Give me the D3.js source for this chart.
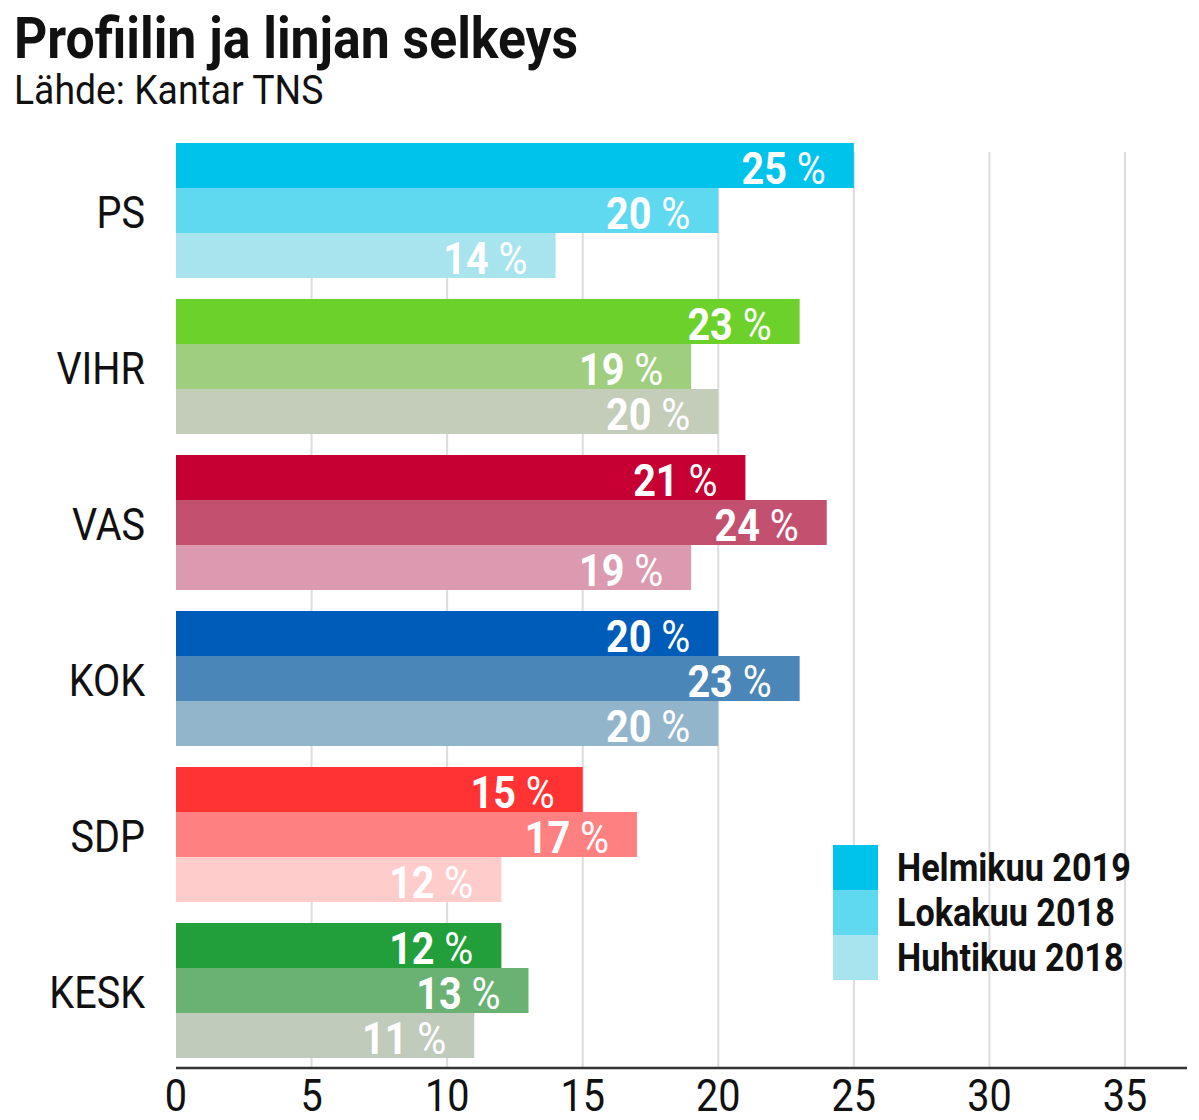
<!DOCTYPE html>
<html><head><meta charset="utf-8">
<script src="https://cdn.jsdelivr.net/npm/d3@7/dist/d3.min.js"></script>
<style>
html,body{margin:0;padding:0;background:#fff;}
svg{display:block;font-family:Roboto,"Noto Sans",sans-serif;}
</style></head>
<body>
<svg id="c" width="1199" height="1120"></svg>
<script>
const title = "Profiilin ja linjan selkeys";
const subtitle = "Lähde: Kantar TNS";
const categories = ["PS","VIHR","VAS","KOK","SDP","KESK"];
const seriesNames = ["Helmikuu 2019","Lokakuu 2018","Huhtikuu 2018"];
const helmikuu2019 = [25,23,21,20,15,12];
const lokakuu2018 = [20,19,24,23,17,13];
const huhtikuu2018 = [14,20,19,20,12,11];
const xTicks = [0,5,10,15,20,25,30,35];
const partyColors = {
  PS:   ["#00c3ec","#5fd9ef","#a8e4ee"],
  VIHR: ["#6dd12b","#9fcf7e","#c3cdba"],
  VAS:  ["#c60033","#c45070","#db9ab0"],
  KOK:  ["#005cb9","#4a86b8","#93b5cc"],
  SDP:  ["#ff3333","#ff8080","#ffcccc"],
  KESK: ["#229f3a","#6ab273","#c0cbbc"]
};

const series = [helmikuu2019, lokakuu2018, huhtikuu2018];
const CX = 0.9; // condensed factor
const svg = d3.select("#c");

const x = d3.scaleLinear().domain([0,35]).range([176,1125]);
const y = d3.scaleBand().domain(categories).range([143,1058]).paddingInner(21/156).paddingOuter(0);
const yi = d3.scaleBand().domain(d3.range(3)).range([0,y.bandwidth()]);

function ctext(g, xx, yy, anchor){
  return g.append("text").attr("transform",`translate(${xx},${yy}) scale(${CX},1)`).attr("text-anchor",anchor);
}

// title
ctext(svg,14,58,"start").attr("font-size",57.5).attr("font-weight",700).attr("fill","#111").text(title);
ctext(svg,14,104,"start").attr("font-size",41.5).attr("fill","#111").text(subtitle);

// gridlines
svg.append("g").selectAll("line").data(xTicks.filter(d=>d>0)).join("line")
  .attr("x1",d=>x(d)).attr("x2",d=>x(d)).attr("y1",152).attr("y2",1068)
  .attr("stroke","#dcdcdc").attr("stroke-width",2);

// bars
const groups = svg.append("g").selectAll("g").data(categories).join("g")
  .attr("transform",d=>`translate(0,${y(d)})`);
groups.each(function(cat, ci){
  const g = d3.select(this);
  series.forEach((s, si)=>{
    const v = s[ci];
    g.append("rect").attr("x",x(0)).attr("y",yi(si)).attr("width",x(v)-x(0)).attr("height",yi.bandwidth())
      .attr("fill",partyColors[cat][si]);
    const t = ctext(g, x(v)-28, yi(si)+yi.bandwidth()/2+18, "end")
      .attr("font-size",44).attr("fill","#fff");
    t.append("tspan").attr("font-weight",700).text(v);
    t.append("tspan").attr("font-weight",400).text("\u00a0%");
  });
  ctext(g, 145, y.bandwidth()/2+17, "end").attr("font-size",44).attr("fill","#111").text(cat);
});

// axis
const ax = svg.append("g").attr("transform","translate(0,1068)");
ax.append("line").attr("x1",176).attr("x2",1187).attr("y1",0).attr("y2",0).attr("stroke","#333").attr("stroke-width",2.5);
ax.selectAll("text.tick").data(xTicks).join(g=>g.append("text"))
  .attr("class","tick")
  .attr("transform",d=>`translate(${x(d)},43) scale(${CX},1)`)
  .attr("text-anchor","middle").attr("font-size",44).attr("fill","#111").text(d=>d);

// legend
const lg = svg.append("g");
seriesNames.forEach((n,i)=>{
  lg.append("rect").attr("x",833).attr("y",845+i*45).attr("width",45).attr("height",45).attr("fill",partyColors.PS[i]);
  ctext(lg, 897, 845+i*45+36, "start").attr("font-size",38).attr("font-weight",700).attr("fill","#111").text(n);
});
</script>
</body></html>
